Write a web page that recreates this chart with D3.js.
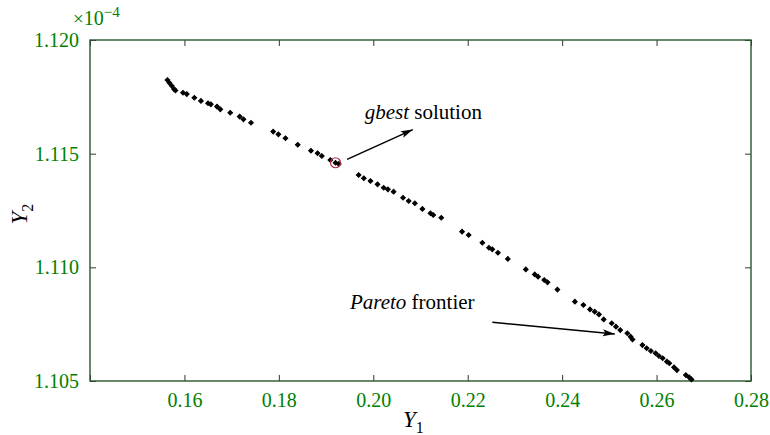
<!DOCTYPE html>
<html>
<head>
<meta charset="utf-8">
<script src="https://cdn.jsdelivr.net/npm/d3@7"></script>
<style>
    body { margin: 0; background: #fff; }
    svg text { font-family: "Liberation Serif", "Times New Roman", serif; }
</style>
</head>
<body>
<div id="chart"></div>
<script>
// Pareto front points, Y1 and Y2 (Y2 in units of 1e-4)
const y1Values = [
    0.1564, 0.1568, 0.1573, 0.1578, 0.1581, 0.1597, 0.1605, 0.1621, 0.1635, 0.1650,
    0.1656, 0.1669, 0.1676, 0.1697, 0.1717, 0.1725, 0.1741, 0.1788, 0.1799, 0.1814,
    0.1840, 0.1868, 0.1882, 0.1891, 0.1909, 0.1920, 0.1927, 0.1969, 0.1980, 0.1994,
    0.2009, 0.2022, 0.2031, 0.2043, 0.2063, 0.2075, 0.2088, 0.2104, 0.2121, 0.2127,
    0.2144, 0.2188, 0.2202, 0.2231, 0.2245, 0.2252, 0.2264, 0.2285, 0.2323, 0.2342,
    0.2349, 0.2362, 0.2369, 0.2390, 0.2427, 0.2445, 0.2459, 0.2469, 0.2478, 0.2488,
    0.2505, 0.2514, 0.2523, 0.2538, 0.2545, 0.2549, 0.2570, 0.2579, 0.2588, 0.2598,
    0.2605, 0.2613, 0.2622, 0.2627, 0.2637, 0.2643, 0.2662, 0.2669, 0.2674
];
const y2Values = [
    1.11824, 1.11812, 1.11799, 1.11784, 1.11778, 1.11768, 1.11762, 1.11746, 1.11732, 1.11722,
    1.11717, 1.11707, 1.11695, 1.11680, 1.11663, 1.11651, 1.11636, 1.11597, 1.11585, 1.11568,
    1.11539, 1.11513, 1.11502, 1.11490, 1.11472, 1.11460, 1.11455, 1.11406, 1.11392, 1.11380,
    1.11365, 1.11350, 1.11343, 1.11333, 1.11306, 1.11292, 1.11282, 1.11257, 1.11238, 1.11230,
    1.11218, 1.11157, 1.11142, 1.11108, 1.11086, 1.11079, 1.11064, 1.11037, 1.10991, 1.10969,
    1.10959, 1.10944, 1.10934, 1.10902, 1.10849, 1.10834, 1.10815, 1.10805, 1.10793, 1.10771,
    1.10754, 1.10739, 1.10724, 1.10710, 1.10695, 1.10683, 1.10658, 1.10644, 1.10632, 1.10622,
    1.10610, 1.10600, 1.10585, 1.10578, 1.10560, 1.10548, 1.10526, 1.10516, 1.10507
];
const gbestIndex = 25;

const xTicks = [0.14, 0.16, 0.18, 0.20, 0.22, 0.24, 0.26, 0.28];
const yTicks = [1.105, 1.110, 1.115, 1.120];

// annotations, in data units
const gbestNote = { text: 'gbest', rest: ' solution', tx: 0.2106, ty: 1.11653,
    from: [0.19445, 1.11475], to: [0.20837, 1.11606] };
const paretoNote = { text: 'Pareto', rest: ' frontier', tx: 0.22145, ty: 1.10815,
    from: [0.22521, 1.10758], to: [0.25115, 1.10707] };

const width = 770;
const height = 435;
const padding = { top: 40, right: 19, bottom: 54, left: 90 };
const green = '#008000';
const frameColor = '#2a562a';

const dataSet = y1Values.map((d, i) => [d, y2Values[i]]);

const xScale = d3.scaleLinear()
    .domain([0.14, 0.28])
    .range([padding.left, width - padding.right]);
const yScale = d3.scaleLinear()
    .domain([1.105, 1.120])
    .range([height - padding.bottom, padding.top]);

const svg = d3.select('#chart')
    .append('svg')
    .attr('width', width)
    .attr('height', height);

svg.append('defs').append('marker')
    .attr('id', 'arrow')
    .attr('markerUnits', 'userSpaceOnUse')
    .attr('markerWidth', 14)
    .attr('markerHeight', 10)
    .attr('refX', 12)
    .attr('refY', 0)
    .attr('viewBox', '-1 -5 14 10')
    .attr('orient', 'auto')
    .append('path')
    .attr('d', 'M0,-3.5L12,0L0,3.5L2.5,0Z')
    .attr('fill', '#000');

const fmt = d3.format('.2f');
const xAxis = d3.axisBottom(xScale)
    .tickValues(xTicks)
    .tickSizeInner(-6)
    .tickSizeOuter(0)
    .tickPadding(12)
    .tickFormat(d => (d === 0.14 ? '' : fmt(d)));
const yAxis = d3.axisLeft(yScale)
    .tickValues(yTicks)
    .tickSizeInner(-6)
    .tickSizeOuter(0)
    .tickPadding(11)
    .tickFormat(d3.format('.3f'));

function styleAxis(g) {
    g.select('.domain').remove();
    g.selectAll('.tick line').attr('stroke', '#333').attr('stroke-width', 1);
    g.selectAll('.tick text').attr('fill', green).attr('font-size', 20)
        .attr('font-family', '"Liberation Serif", serif');
}

svg.append('g')
    .attr('transform', 'translate(0,' + (height - padding.bottom) + ')')
    .call(xAxis).call(styleAxis);
svg.append('g')
    .attr('transform', 'translate(' + padding.left + ',0)')
    .call(yAxis).call(styleAxis);
svg.append('g')
    .attr('transform', 'translate(0,' + padding.top + ')')
    .call(d3.axisTop(xScale).tickValues(xTicks).tickSizeInner(-6).tickSizeOuter(0).tickFormat(''))
    .call(styleAxis);
svg.append('g')
    .attr('transform', 'translate(' + (width - padding.right) + ',0)')
    .call(d3.axisRight(yScale).tickValues(yTicks).tickSizeInner(-6).tickSizeOuter(0).tickFormat(''))
    .call(styleAxis);

// frame
svg.append('rect')
    .attr('x', xScale(0.14))
    .attr('y', yScale(1.120))
    .attr('width', xScale(0.28) - xScale(0.14))
    .attr('height', yScale(1.105) - yScale(1.120))
    .attr('fill', 'none')
    .attr('stroke', frameColor)
    .attr('stroke-width', 1.4);

// exponent
const expo = svg.append('text')
    .attr('x', padding.left - 17)
    .attr('y', padding.top - 15)
    .attr('fill', green)
    .attr('font-size', 20);
expo.append('tspan').text('×').attr('font-size', 19);
expo.append('tspan').text('10');
expo.append('tspan').text('−4').attr('font-size', 15).attr('dy', -8);

// points
const marker = d3.symbol().type(d3.symbolSquare).size(11);
svg.append('g')
    .selectAll('path')
    .data(dataSet)
    .enter()
    .append('path')
    .attr('d', marker)
    .attr('transform', d => 'translate(' + xScale(d[0]) + ',' + yScale(d[1]) + ') rotate(45)')
    .attr('fill', '#000')
    .attr('stroke', '#000')
    .attr('stroke-width', 1);

// gbest circle
svg.append('circle')
    .attr('cx', xScale(dataSet[gbestIndex][0]))
    .attr('cy', yScale(dataSet[gbestIndex][1]))
    .attr('r', 5)
    .attr('fill', 'none')
    .attr('stroke', '#a8304a')
    .attr('stroke-width', 1.2);

// annotations
function note(n, anchor) {
    const t = svg.append('text')
        .attr('x', xScale(n.tx))
        .attr('y', yScale(n.ty))
        .attr('text-anchor', anchor)
        .attr('font-size', 21)
        .attr('fill', '#000');
    t.append('tspan').text(n.text).attr('font-style', 'italic');
    t.append('tspan').text(n.rest);
    svg.append('line')
        .attr('x1', xScale(n.from[0]))
        .attr('y1', yScale(n.from[1]))
        .attr('x2', xScale(n.to[0]))
        .attr('y2', yScale(n.to[1]))
        .attr('stroke', '#000')
        .attr('stroke-width', 1.5)
        .attr('marker-end', 'url(#arrow)');
}
note(gbestNote, 'middle');
note(paretoNote, 'end');

// axis labels
const xLabel = svg.append('text')
    .attr('x', 403)
    .attr('y', 427)
    .attr('font-size', 23)
    .attr('fill', '#000');
xLabel.append('tspan').text('Y').attr('font-style', 'italic');
xLabel.append('tspan').text('1').attr('font-size', 16).attr('dy', 6);

const yLabel = svg.append('text')
    .attr('transform', 'translate(27,' + (yScale(1.1125) + 14) + ') rotate(-90)')
    .attr('font-size', 23)
    .attr('fill', '#000');
yLabel.append('tspan').text('Y').attr('font-style', 'italic');
yLabel.append('tspan').text('2').attr('font-size', 16).attr('dy', 6);
</script>
</body>
</html>
